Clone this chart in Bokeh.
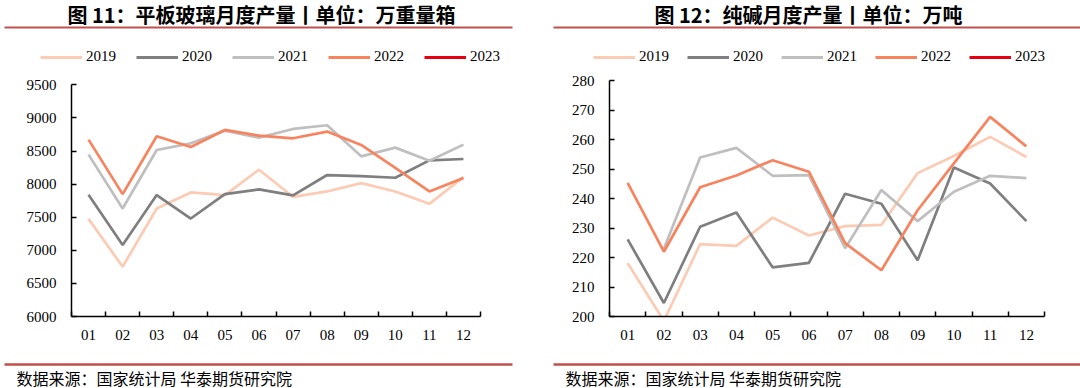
import numpy as np
from bokeh.plotting import figure
from bokeh.layouts import row, column
from bokeh.models import Range1d, FixedTicker, Legend, LegendItem
from bokeh.core.properties import value
from bokeh.embed import file_html
from bokeh.resources import INLINE

# ---------------- data ----------------
months = ["01", "02", "03", "04", "05", "06", "07", "08", "09", "10", "11", "12"]
years = ["2019", "2020", "2021", "2022", "2023"]
colors = ["#FCCBB4", "#7F7F7F", "#BFBFBF", "#F7845E", "#E60012"]

# 平板玻璃月度产量 (万重量箱)
glass_2019 = [7475, 6752, 7631, 7874, 7834, 8217, 7808, 7889, 8015, 7889, 7702, 8106]
glass_2020 = [7839, 7080, 7834, 7480, 7849, 7920, 7829, 8137, 8121, 8096, 8359, 8379]
glass_2021 = [8445, 7631, 8515, 8616, 8808, 8702, 8833, 8889, 8419, 8551, 8354, 8596]
glass_2022 = [8672, 7849, 8722, 8561, 8818, 8732, 8692, 8793, 8591, 8245, 7889, 8091]
glass_2023 = []
glass_ticks = [6000, 6500, 7000, 7500, 8000, 8500, 9000, 9500]

# 纯碱月度产量 (万吨)
soda_2019 = [218.2, 198.5, 224.6, 224.0, 233.6, 227.5, 230.7, 231.1, 248.7, 254.5, 261.0, 254.2]
soda_2020 = [226.2, 204.6, 230.5, 235.3, 216.7, 218.2, 241.7, 238.3, 219.1, 250.6, 245.2, 232.4]
soda_2021 = [np.nan, 223.0, 254.0, 257.3, 247.8, 248.0, 223.2, 243.0, 232.4, 242.4, 247.8, 247.0]
soda_2022 = [245.4, 222.0, 243.9, 247.9, 253.1, 249.2, 224.9, 215.7, 236.1, 252.0, 267.8, 257.8]
soda_2023 = []
soda_ticks = [200, 210, 220, 230, 240, 250, 260, 270, 280]

RULE = "#C0504D"
SERIF = "Liberation Serif"
CJK = "Noto Sans CJK SC"
PW = 540
XS = list(range(1, len(months) + 1))


def padded(vals):
    return list(vals) + [np.nan] * (len(months) - len(vals))


def band(h):
    f = figure(width=PW, height=h, x_range=Range1d(0, PW), y_range=Range1d(h, 0),
               output_backend="svg", toolbar_location=None, min_border=0,
               x_axis_type=None, y_axis_type=None, outline_line_color=None)
    f.grid.visible = False
    return f


def head_fig(text, cx, rx0, rx1, series, lx, lspacing):
    f = band(68)
    f.text(x=[cx], y=[14], text=[text], text_font=value(CJK), text_font_style="bold",
           text_font_size="20px", text_align="center", text_baseline="middle",
           text_color="#000000")
    f.segment(x0=[rx0], y0=[27], x1=[rx1], y1=[27], line_color=RULE, line_width=2.2)
    items = []
    for yr, vals, c in zip(years, series, colors):
        # legend proxies: same series, outside this band's visible range
        r = f.line(XS, padded(vals), line_color=c, line_width=3)
        items.append(LegendItem(label=yr, renderers=[r]))
    leg = Legend(items=items, orientation="horizontal", location=(lx, 3),
                 glyph_width=42, glyph_height=16, label_height=16, label_standoff=4,
                 spacing=lspacing, padding=0, margin=0, border_line_color=None,
                 background_fill_alpha=0, label_text_font=SERIF,
                 label_text_font_size="15px", label_text_color="#000000")
    f.add_layout(leg)
    return f


def footer_fig(tx, rx0, rx1):
    f = band(36)
    f.segment(x0=[rx0], y0=[12], x1=[rx1], y1=[12], line_color=RULE, line_width=2.5)
    f.text(x=[tx], y=[25], text=["数据来源：国家统计局 华泰期货研究院"], text_font=value(CJK),
           text_font_size="16px", text_align="left", text_baseline="middle",
           text_color="#000000")
    return f


def chart(series, ymin, ytop, ticks, bounds, mbl, mbr):
    p = figure(width=PW, height=284, x_range=Range1d(0.5, 12.5), y_range=Range1d(ymin, ytop),
               output_backend="svg", toolbar_location=None,
               min_border_left=mbl, min_border_right=mbr, min_border_top=2,
               min_border_bottom=36, outline_line_color=None)
    p.grid.visible = False
    for vals, c in zip(series, colors):
        p.line(XS, padded(vals), line_color=c, line_width=2.7)

    xa = p.xaxis[0]
    xa.ticker = FixedTicker(ticks=XS, minor_ticks=[i + 0.5 for i in range(0, 13)])
    xa.major_label_overrides = {i + 1: m for i, m in enumerate(months)}
    xa.major_tick_in = 0
    xa.major_tick_out = 0
    xa.minor_tick_in = 5
    xa.minor_tick_out = 0
    xa.minor_tick_line_color = "#000000"
    xa.minor_tick_line_width = 1.5
    xa.axis_line_color = "#000000"
    xa.axis_line_width = 1.5
    xa.major_label_text_font = SERIF
    xa.major_label_text_font_size = "15px"
    xa.major_label_text_color = "#000000"
    xa.major_label_standoff = 13

    ya = p.yaxis[0]
    ya.ticker = FixedTicker(ticks=ticks)
    ya.bounds = bounds
    ya.major_tick_in = 5
    ya.major_tick_out = 0
    ya.minor_tick_in = 0
    ya.minor_tick_out = 0
    ya.major_tick_line_color = "#000000"
    ya.major_tick_line_width = 1.5
    ya.axis_line_color = "#000000"
    ya.axis_line_width = 1.5
    ya.major_label_text_font = SERIF
    ya.major_label_text_font_size = "15px"
    ya.major_label_text_color = "#000000"
    ya.major_label_standoff = 15
    return p


glass = [glass_2019, glass_2020, glass_2021, glass_2022, glass_2023]
soda = [soda_2019, soda_2020, soda_2021, soda_2022, soda_2023]

# left panel
h1 = head_fig("图 11：平板玻璃月度产量丨单位：万重量箱", 261, 4, 512, glass, 40, 20)
c1 = chart(glass, 6000, 6000 + 246 * 15.106, glass_ticks, (6000, 9500), 71, 60)
f1 = footer_fig(16, 4, 512)

# right panel
h2 = head_fig("图 12：纯碱月度产量丨单位：万吨", 268, 13, PW, soda, 53, 18)
c2 = chart(soda, 200, 200 + 246 * 0.3397, soda_ticks, (200, 280), 69, 36)
f2 = footer_fig(25, 13, PW)

layout = column(row(h1, h2), row(c1, c2), row(f1, f2))

open("out.html", "w").write(file_html(layout, INLINE))
